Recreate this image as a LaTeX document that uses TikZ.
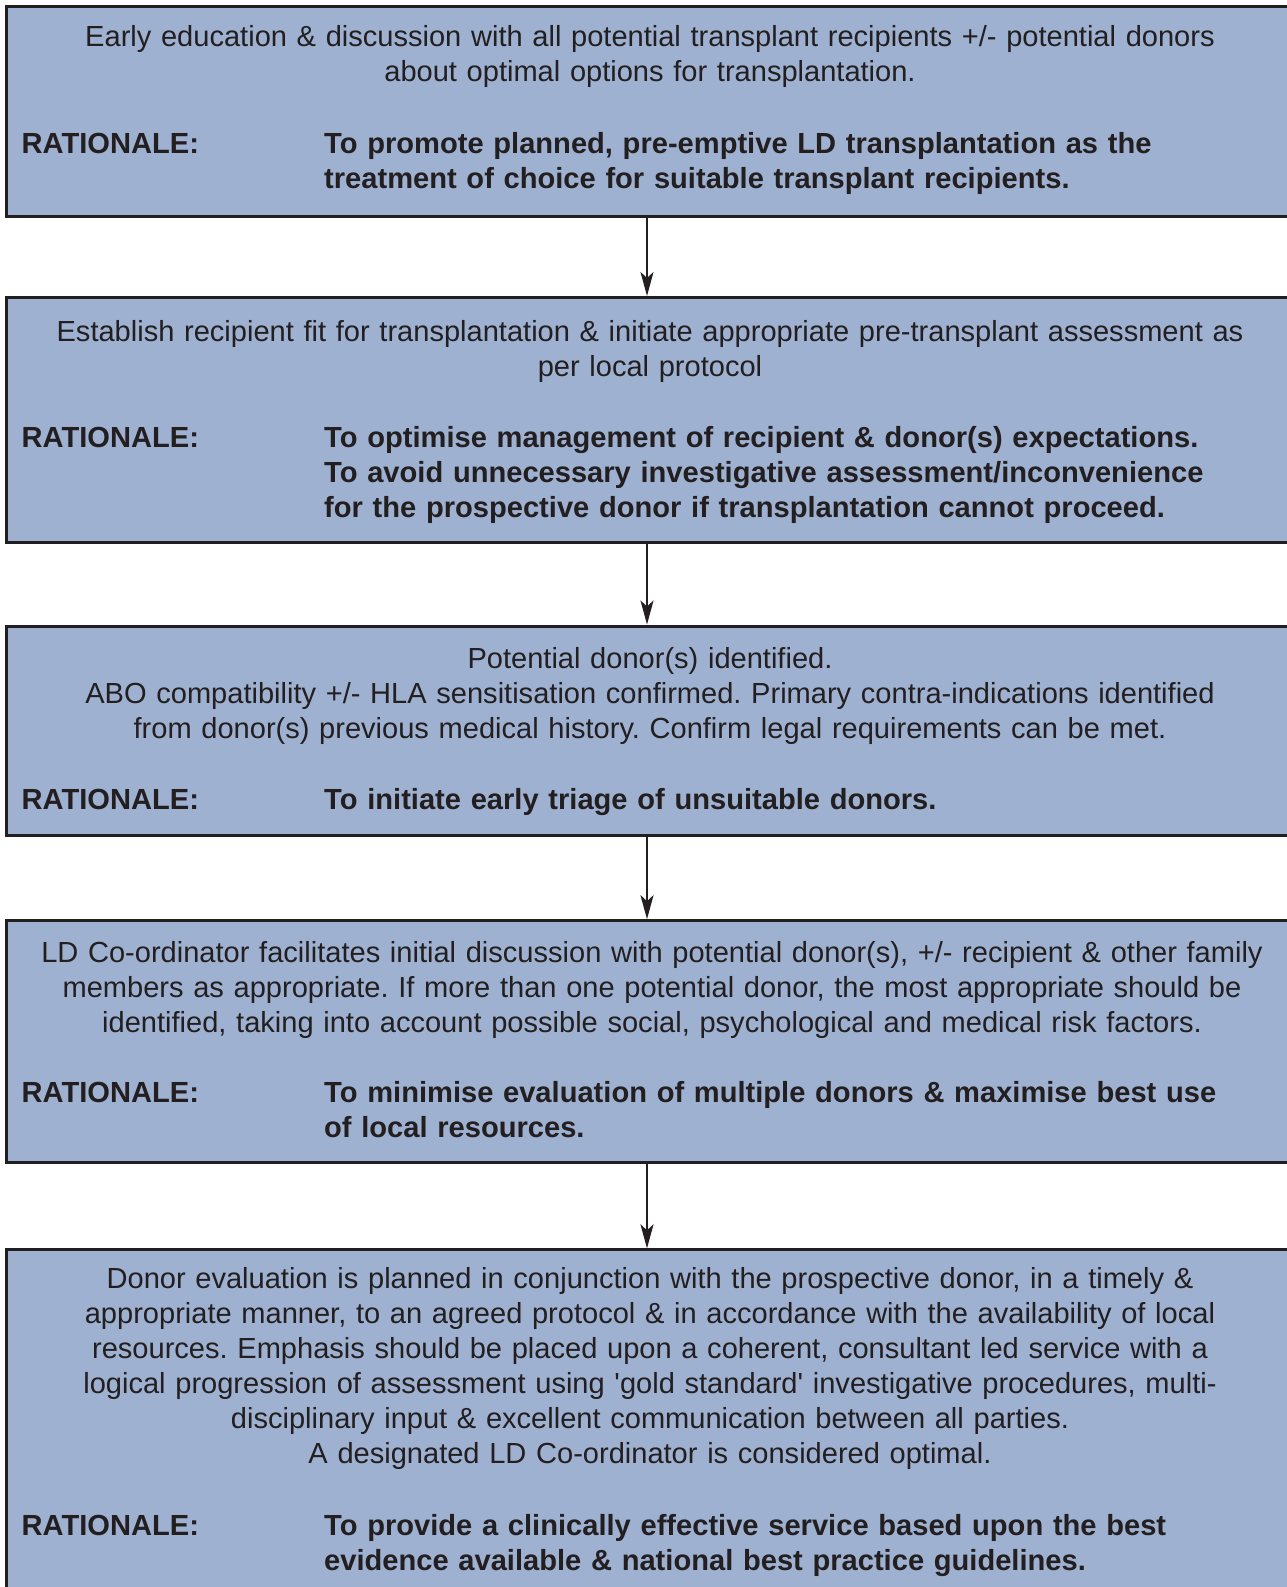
\documentclass[tikz,border=0pt]{standalone}
\usepackage{fontspec}
\setmainfont{Liberation Sans}
\usetikzlibrary{arrows.meta}
\definecolor{boxfill}{RGB}{158,177,209}
\definecolor{ink}{RGB}{35,31,32}
\frenchspacing
\tikzset{
  box/.style={draw=ink, fill=boxfill, line width=3pt, rectangle, inner sep=0pt, minimum width=1288pt},
  desc/.style={anchor=base, text width=1280pt, align=center, inner sep=0pt, text=ink,
    font=\fontsize{29.05}{35}\selectfont\frenchspacing},
  ratlabel/.style={anchor=base west, inner sep=0pt, text=ink, font=\fontsize{29.1}{35}\selectfont\bfseries},
  rattext/.style={anchor=base west, text width=960pt, align=left, inner sep=0pt, text=ink,
    font=\fontsize{29.1}{35}\selectfont\bfseries\frenchspacing},
  arr/.style={draw=ink, line width=2.3pt, -{Stealth[length=24pt, width=13pt, inset=6pt]}}
}
\begin{document}
\begin{tikzpicture}[x=1pt, y=-1pt]
\useasboundingbox (0,0) rectangle (1287,1587);
\fill[white] (0,0) rectangle (1287,1587);
\begin{scope}
\clip (0,0) rectangle (1287,1587);
% boxes
\node[box, minimum height=210pt] (b1) at (650,111.5) {};
\node[box, minimum height=244.5pt] (b2) at (650,419.75) {};
\node[box, minimum height=209pt] (b3) at (650,730.5) {};
\node[box, minimum height=242pt] (b4) at (650,1041.7) {};
\node[box, minimum height=370pt] (b5) at (650,1434.85) {};
\end{scope}
% box 1
\node[desc] (d1) at (650,46.7) {Early education \& discussion with all potential transplant recipients +/- potential donors\\about optimal options for transplantation.};
\node[ratlabel] (r1) at (21.5,153) {RATIONALE:};
\node[rattext] (t1) at (324,153) {To promote planned, pre-emptive LD transplantation as the\\treatment of choice for suitable transplant recipients.};
% box 2
\node[desc] (d2) at (650,341) {Establish recipient fit for transplantation \& initiate appropriate pre-transplant assessment as\\per local protocol};
\node[ratlabel] (r2) at (21.5,447) {RATIONALE:};
\node[rattext] (t2) at (324,447) {To optimise management of recipient \& donor(s) expectations.\\To avoid unnecessary investigative assessment/inconvenience\\for the prospective donor if transplantation cannot proceed.};
% box 3
\node[desc] (d3) at (650,668.5) {Potential donor(s) identified.\\ABO compatibility +/- HLA sensitisation confirmed. Primary contra-indications identified\\from donor(s) previous medical history. Confirm legal requirements can be met.};
\node[ratlabel] (r3) at (21.5,809) {RATIONALE:};
\node[rattext] (t3) at (324,809) {To initiate early triage of unsuitable donors.};
% box 4
\node[desc] (d4) at (652,962) {LD Co-ordinator facilitates initial discussion with potential donor(s), +/- recipient \& other family\\members as appropriate. If more than one potential donor, the most appropriate should be\\identified, taking into account possible social, psychological and medical risk factors.};
\node[ratlabel] (r4) at (21.5,1102.5) {RATIONALE:};
\node[rattext] (t4) at (324,1102.5) {To minimise evaluation of multiple donors \& maximise best use\\of local resources.};
% box 5
\node[desc] (d5) at (650,1288) {Donor evaluation is planned in conjunction with the prospective donor, in a timely \&\\appropriate manner, to an agreed protocol \& in accordance with the availability of local\\resources. Emphasis should be placed upon a coherent, consultant led service with a\\logical progression of assessment using \textquotesingle gold standard\textquotesingle\ investigative procedures, multi-\\disciplinary input \& excellent communication between all parties.\\A designated LD Co-ordinator is considered optimal.};
\node[ratlabel] (r5) at (21.5,1535) {RATIONALE:};
\node[rattext] (t5) at (324,1535) {To provide a clinically effective service based upon the best\\evidence available \& national best practice guidelines.};
% arrows
\draw[arr] ([xshift=-3pt]b1.south) -- ([xshift=-3pt]b2.north);
\draw[arr] ([xshift=-3pt]b2.south) -- ([xshift=-3pt]b3.north);
\draw[arr] ([xshift=-3pt]b3.south) -- ([xshift=-3pt]b4.north);
\draw[arr] ([xshift=-3pt]b4.south) -- ([xshift=-3pt]b5.north);
\end{tikzpicture}
\end{document}
